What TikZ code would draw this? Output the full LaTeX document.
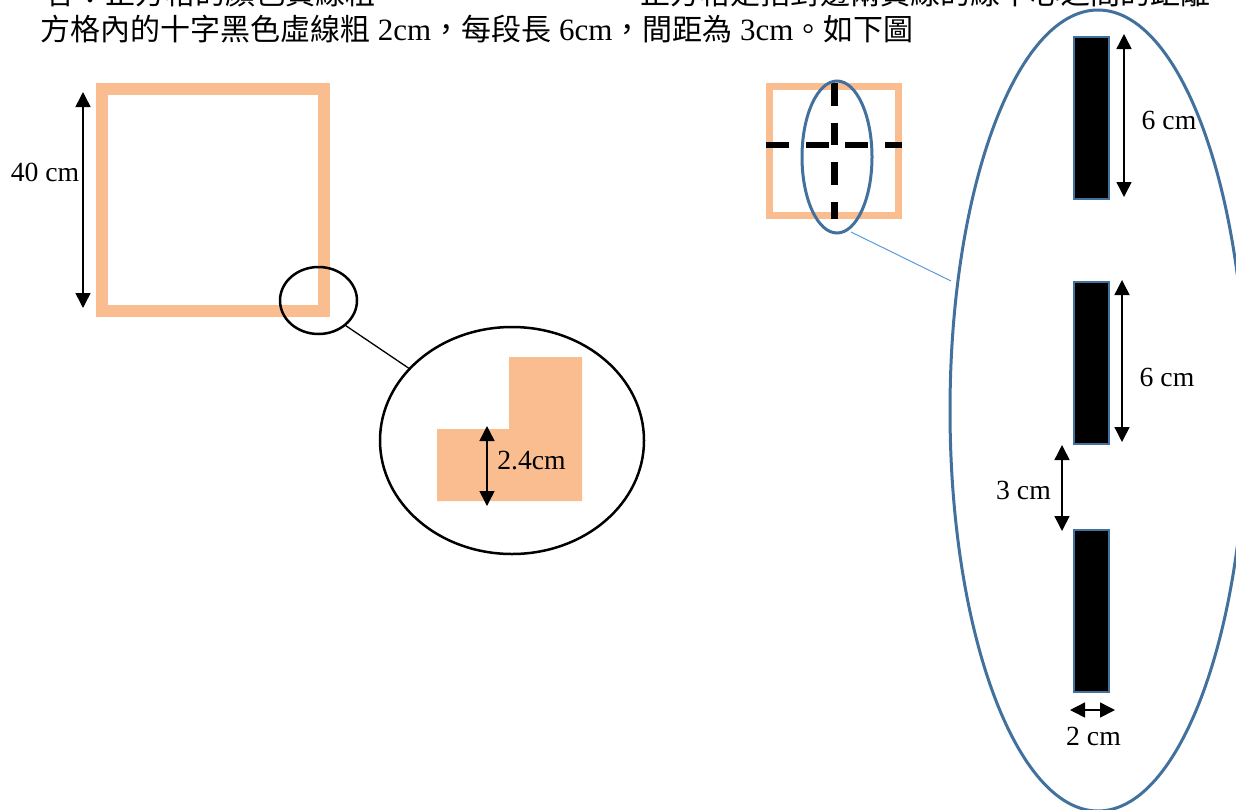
\documentclass[tikz,border=0pt]{standalone}
\usepackage{fontspec}
\setmainfont{Liberation Serif}
\newfontfamily\cjk{Noto Sans CJK TC}
\usetikzlibrary{arrows.meta,shapes.geometric}
\definecolor{peach}{HTML}{FABD8F}
\definecolor{bord}{HTML}{41719C}
\definecolor{lblue}{HTML}{5B9BD5}
\newcommand{\lat}[1]{{\rmfamily\fontsize{31}{32}\selectfont #1}}
\tikzset{
  x=1pt,y=-1pt,
  lab/.style={inner sep=0,font=\fontsize{27.7}{30}\selectfont},
  cjktext/.style={inner sep=0,anchor=base west,font=\cjk\fontsize{30}{32}\selectfont},
  dim/.style={line width=1.5pt,{Triangle[width=15pt,length=15pt]}-{Triangle[width=15pt,length=15pt]}},
  ring/.style={ellipse,draw,inner sep=0,outer sep=0,line width=2.5pt},
  bluering/.style={ring,draw=bord,line width=3pt},
  frame/.style={rectangle,draw=peach,inner sep=0,outer sep=0},
  bar/.style={rectangle,draw=bord,fill=black,line width=2pt,inner sep=0,outer sep=0,minimum width=35pt,minimum height=162pt},
  dashpart/.style={draw=black,line width=7pt},
}
\begin{document}
\begin{tikzpicture}
\useasboundingbox (0,0) rectangle (1236,809);
\begin{scope}
\clip (0,0) rectangle (1236,809);
\node[cjktext] (t0) at (45,4) {答：正方格的顏色黃線粗};
\node[cjktext] (t1) at (640,4) {正方格是指對邊兩黃線的線中心之間的距離。};
\end{scope}
\node[cjktext] (t2) at (40,40) {方格內的十字黑色虛線粗\lat{ 2cm}，每段長\lat{ 6cm}，間距為\lat{ 3cm}。如下圖};
% left square
\node[frame,line width=12pt,minimum width=222pt,minimum height=222.5pt] (sqL) at (213,200) {};
\coordinate (a40t) at (83,92); \coordinate (a40b) at (83,308);
\draw[dim] (a40t) -- (a40b);
\node[lab] (l40) at (45,172) {40 cm};
\node[ring,minimum width=77pt,minimum height=67pt] (zoomS) at (318.5,300.5) {};
\node[ring,minimum width=264pt,minimum height=227pt] (zoomB) at (512,440.5) {};
\draw[line width=1.3pt] (zoomS.-43) -- (zoomB.145);
% L shape
\fill[peach] (437,429) -- (509,429) -- (509,357) -- (582,357) -- (582,501) -- (437,501) -- cycle;
\coordinate (a24t) at (487,426); \coordinate (a24b) at (487,506);
\draw[dim] (a24t) -- (a24b);
\node[lab] (l24) at (531.5,461) {2.4cm};
% right square
\node[frame,line width=7pt,minimum width=129pt,minimum height=129.5pt] (sqR) at (834,151) {};
\foreach \ya/\yb in {83/106,123/145,162/185,202/219}
  \draw[dashpart] (834.3,\ya) -- (834.3,\yb);
\foreach \xa/\xb in {766/789,806/829,845/868,885/902}
  \draw[dashpart,line width=6pt] (\xa,145.3) -- (\xb,145.3);
\node[bluering,minimum width=70pt,minimum height=152pt] (ovS) at (837,157) {};
\node[bluering,minimum width=296pt,minimum height=801pt] (ovB) at (1098,410.5) {};
\coordinate (linkA) at (851,232); \coordinate (linkB) at (951,281);
\draw[lblue,line width=1pt] (linkA) -- (linkB);
% bars
\node[bar] (b1) at (1091.5,117.5) {};
\node[bar] (b2) at (1091.5,362.5) {};
\node[bar] (b3) at (1091.5,611) {};
\coordinate (d1t) at (1124,34); \coordinate (d1b) at (1124,197);
\draw[dim] (d1t) -- (d1b);
\coordinate (d2t) at (1122,280); \coordinate (d2b) at (1122,442);
\draw[dim] (d2t) -- (d2b);
\coordinate (d3t) at (1062,445); \coordinate (d3b) at (1062,531);
\draw[dim] (d3t) -- (d3b);
\coordinate (d4l) at (1070,710); \coordinate (d4r) at (1115,710);
\draw[dim] (d4l) -- (d4r);
\node[lab] (l6a) at (1169,120) {6 cm};
\node[lab] (l6b) at (1167,377) {6 cm};
\node[lab] (l3) at (1023.5,490) {3 cm};
\node[lab] (l2) at (1093.5,736) {2 cm};
\end{tikzpicture}
\end{document}
